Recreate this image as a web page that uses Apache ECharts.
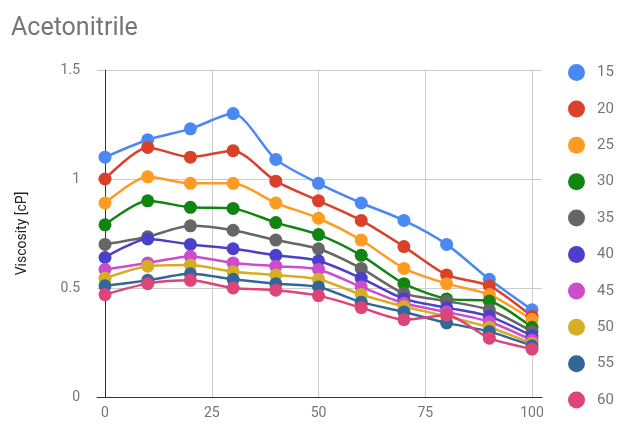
<!DOCTYPE html>
<html>
<head>
<meta charset="utf-8">
<script src="https://cdn.jsdelivr.net/npm/echarts@6/dist/echarts.min.js"></script>
<style>
  html, body { margin: 0; padding: 0; background: #fff; }
  #chart { width: 619px; height: 424px; }
</style>
</head>
<body>
<div id="chart"></div>
<script>
// Acetonitrile content (%) on the x axis
const concentrations = [0, 10, 20, 30, 40, 50, 60, 70, 80, 90, 100];

// Viscosity (cP) per temperature series
const t15 = [1.10, 1.18, 1.23, 1.30, 1.09, 0.98, 0.89, 0.81, 0.70, 0.54, 0.40];
const t20 = [1.00, 1.145, 1.10, 1.13, 0.99, 0.90, 0.81, 0.69, 0.56, 0.51, 0.37];
const t25 = [0.89, 1.01, 0.98, 0.98, 0.89, 0.82, 0.72, 0.59, 0.52, 0.47, 0.355];
const t30 = [0.79, 0.90, 0.87, 0.865, 0.80, 0.745, 0.65, 0.52, 0.45, 0.44, 0.32];
const t35 = [0.70, 0.735, 0.785, 0.765, 0.72, 0.68, 0.59, 0.475, 0.44, 0.40, 0.30];
const t40 = [0.64, 0.725, 0.70, 0.68, 0.65, 0.625, 0.545, 0.45, 0.41, 0.37, 0.28];
const t45 = [0.585, 0.615, 0.645, 0.615, 0.60, 0.585, 0.505, 0.43, 0.39, 0.345, 0.26];
const t50 = [0.545, 0.60, 0.605, 0.575, 0.56, 0.54, 0.47, 0.415, 0.37, 0.32, 0.245];
const t55 = [0.51, 0.535, 0.565, 0.54, 0.52, 0.505, 0.435, 0.39, 0.34, 0.30, 0.235];
const t60 = [0.47, 0.52, 0.535, 0.50, 0.49, 0.465, 0.41, 0.355, 0.375, 0.27, 0.22];

const seriesNames = ['15', '20', '25', '30', '35', '40', '45', '50', '55', '60'];
const seriesValues = [t15, t20, t25, t30, t35, t40, t45, t50, t55, t60];
const palette = ['#4a89f3', '#d9412b', '#ff9b22', '#128412', '#666666',
                 '#4b40cc', '#cc4ccc', '#d6ae25', '#336699', '#dd4477'];

const xTicks = [0, 25, 50, 75, 100];

const font = 'Roboto, "Noto Sans", sans-serif';

const chart = echarts.init(document.getElementById('chart'), null, { renderer: 'canvas' });

chart.setOption({
  animation: false,
  color: palette,
  title: {
    text: 'Acetonitrile',
    left: 6,
    top: 11,
    textStyle: { fontFamily: font, fontSize: 25, fontWeight: 'normal', color: '#757575' }
  },
  legend: {
    orient: 'vertical',
    left: 563,
    top: 59,
    icon: 'circle',
    itemWidth: 17,
    itemHeight: 17,
    itemGap: 19.4,
    data: seriesNames,
    textStyle: { fontFamily: font, fontSize: 15, color: '#757575', padding: [0, 0, 0, 7] }
  },
  grid: { left: 97, right: 77, top: 70, bottom: 27, containLabel: false },
  xAxis: {
    type: 'value',
    min: -1.875,
    max: 102.34,
    axisLine: { show: true, onZero: true, lineStyle: { color: '#333333', width: 1 } },
    axisTick: { show: false, customValues: xTicks },
    axisLabel: {
      customValues: xTicks,
      margin: 9,
      fontFamily: font, fontSize: 14, color: '#757575'
    },
    splitLine: { show: true, lineStyle: { color: '#cccccc', width: 1 } }
  },
  yAxis: {
    type: 'value',
    min: 0,
    max: 1.5,
    interval: 0.5,
    name: 'Viscosity [cP]',
    nameLocation: 'middle',
    nameGap: 68,
    nameTextStyle: { fontFamily: font, fontSize: 14, color: '#222222' },
    axisLine: { show: true, onZero: true, lineStyle: { color: '#333333', width: 1 } },
    axisTick: { show: false },
    axisLabel: {
      margin: 17,
      fontFamily: font, fontSize: 14, color: '#757575',
      formatter: v => String(v)
    },
    splitLine: { show: true, lineStyle: { color: '#cccccc', width: 1 } }
  },
  series: seriesNames.map((name, i) => ({
    name: name,
    type: 'line',
    smooth: 0.25,
    symbol: 'circle',
    symbolSize: 13,
    lineStyle: { width: 2.5 },
    data: concentrations.map((x, j) => [x, seriesValues[i][j]])
  }))
});
</script>
</body>
</html>
